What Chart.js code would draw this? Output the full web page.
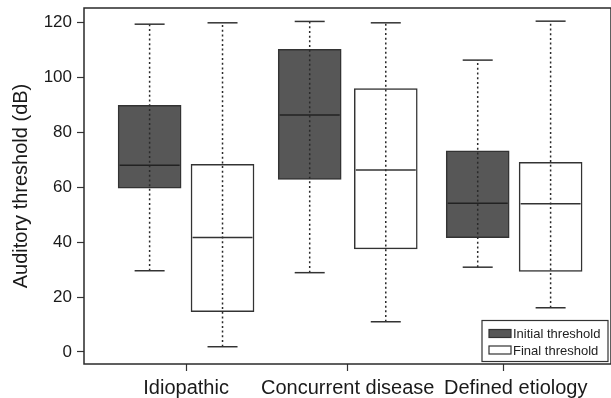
<!DOCTYPE html>
<html>
<head>
<meta charset="utf-8">
<script src="https://cdn.jsdelivr.net/npm/chart.js@4.4.1/dist/chart.umd.min.js"></script>
<style>
  html, body { margin: 0; padding: 0; background: #fff; overflow: hidden; }
</style>
</head>
<body>
<canvas id="myChart" width="620" height="398"></canvas>
<script>
// group labels, where their tick marks sit and where their text sits
const categories = ['Idiopathic', 'Concurrent disease', 'Defined etiology'];
const categoryTicks = [1, 2.02, 3];
const categoryLabelPos = [1, 2.02, 3.08];
const yTicks = [0, 20, 40, 60, 80, 100, 120];

// box positions on the x axis
const initialPos = [0.77, 1.78, 2.84];
const finalPos = [1.23, 2.26, 3.30];

// initial threshold (dB)
const initialMin = [29.6, 28.9, 30.9];
const initialQ1 = [59.7, 62.9, 41.7];
const initialMedian = [68.1, 86.4, 54.2];
const initialQ3 = [89.9, 110.3, 73.3];
const initialMax = [119.5, 120.5, 106.4];

// final threshold (dB)
const finalMin = [1.9, 11.0, 16.1];
const finalQ1 = [14.7, 37.6, 29.4];
const finalMedian = [41.7, 66.3, 54.0];
const finalQ3 = [68.4, 96.0, 69.1];
const finalMax = [120.0, 120.0, 120.6];

const darkFill = '#575757';
const ink = '#2a2a2a';
const font = '"Liberation Sans", Arial, sans-serif';

function boxData(pos, q1, q3) {
    return pos.map((x, i) => ({ x: x, y: [q1[i], q3[i]] }));
}

function whiskerData(pos, lo, hi) {
    const out = [];
    pos.forEach((x, i) => {
        out.push({ x: x, y: lo[i] }, { x: x, y: hi[i] }, { x: x, y: null });
    });
    return out;
}

function capData(pos, lo, hi) {
    const out = [];
    pos.forEach((x, i) => {
        out.push({ x: x, y: lo[i] }, { x: x, y: hi[i] });
    });
    return out;
}

function medianData(pos, med) {
    return pos.map((x, i) => ({ x: x, y: med[i] }));
}

const whiskerStyle = {
    type: 'line',
    borderColor: ink,
    borderWidth: 1.5,
    borderDash: [2, 2.7],
    pointRadius: 0,
    spanGaps: false,
    order: 2
};

const capStyle = {
    type: 'scatter',
    pointStyle: 'line',
    pointRadius: 15,
    borderColor: '#333',
    pointBorderWidth: 1.5,
    showLine: false,
    order: 1
};

// frame round the plot and the legend box inside it
const framePlugin = {
    id: 'frame',
    afterDraw(chart) {
        const ctx = chart.ctx;
        const a = chart.chartArea;
        ctx.save();
        ctx.strokeStyle = ink;
        ctx.lineWidth = 1.5;
        ctx.strokeRect(a.left, a.top, a.right - a.left, a.bottom - a.top);

        const w = 126, h = 41;
        const lx = a.right - 3 - w;
        const ly = a.bottom - 2.5 - h;
        ctx.fillStyle = '#fff';
        ctx.fillRect(lx, ly, w, h);
        ctx.lineWidth = 1.2;
        ctx.strokeStyle = '#333';
        ctx.strokeRect(lx, ly, w, h);

        const items = chart.data.datasets.filter(d => d.type === 'bar');
        items.forEach((d, i) => {
            const cy = ly + 13 + i * 16.5;
            ctx.fillStyle = d.backgroundColor;
            ctx.fillRect(lx + 7, cy - 4, 22, 8);
            ctx.lineWidth = 1.2;
            ctx.strokeStyle = '#333';
            ctx.strokeRect(lx + 7, cy - 4, 22, 8);
            ctx.fillStyle = '#222';
            ctx.font = '13px ' + font;
            ctx.textBaseline = 'middle';
            ctx.textAlign = 'left';
            ctx.fillText(d.label, lx + 31, cy + 1);
        });
        ctx.restore();
    }
};

const ctx = document.getElementById('myChart').getContext('2d');
const myChart = new Chart(ctx, {
    type: 'bar',
    data: {
        datasets: [
            {
                type: 'bar',
                label: 'Initial threshold',
                data: boxData(initialPos, initialQ1, initialQ3),
                backgroundColor: darkFill,
                borderColor: '#333',
                borderWidth: 1.5,
                borderSkipped: false,
                barThickness: 63,
                grouped: false,
                order: 3
            },
            {
                type: 'bar',
                label: 'Final threshold',
                data: boxData(finalPos, finalQ1, finalQ3),
                backgroundColor: '#ffffff',
                borderColor: '#333',
                borderWidth: 1.5,
                borderSkipped: false,
                barThickness: 63,
                grouped: false,
                order: 3
            },
            Object.assign({ label: 'initial whiskers', data: whiskerData(initialPos, initialMin, initialMax) }, whiskerStyle),
            Object.assign({ label: 'final whiskers', data: whiskerData(finalPos, finalMin, finalMax) }, whiskerStyle),
            Object.assign({ label: 'initial caps', data: capData(initialPos, initialMin, initialMax) }, capStyle),
            Object.assign({ label: 'final caps', data: capData(finalPos, finalMin, finalMax) }, capStyle),
            Object.assign({ label: 'initial median', data: medianData(initialPos, initialMedian) }, capStyle, { pointRadius: 30, borderColor: '#222' }),
            Object.assign({ label: 'final median', data: medianData(finalPos, finalMedian) }, capStyle, { pointRadius: 30 })
        ]
    },
    options: {
        responsive: false,
        animation: false,
        events: [],
        layout: {
            autoPadding: false,
            padding: { top: 8, right: 9, left: 0, bottom: 0 }
        },
        scales: {
            // tick marks only
            x: {
                type: 'linear',
                position: 'bottom',
                weight: 0,
                min: 0.356,
                max: 3.681,
                offset: false,
                afterBuildTicks: (axis) => {
                    axis.ticks = categoryTicks.map(v => ({ value: v }));
                },
                afterFit: (axis) => {
                    axis.height = 0;
                    axis.paddingLeft = 0;
                    axis.paddingRight = 0;
                },
                ticks: { display: false },
                grid: {
                    offset: false,
                    drawOnChartArea: false,
                    drawTicks: true,
                    tickLength: 7,
                    tickWidth: 1.2,
                    tickColor: '#333'
                },
                border: { display: false }
            },
            // group names
            xLabels: {
                type: 'linear',
                position: 'bottom',
                weight: 1,
                min: 0.356,
                max: 3.681,
                offset: false,
                afterBuildTicks: (axis) => {
                    axis.ticks = categoryLabelPos.map(v => ({ value: v }));
                },
                afterFit: (axis) => {
                    axis.height = 34;
                    axis.paddingLeft = 0;
                    axis.paddingRight = 0;
                },
                ticks: {
                    autoSkip: false,
                    maxRotation: 0,
                    padding: 4,
                    color: '#1a1a1a',
                    font: { family: font, size: 20 },
                    callback: (value, index) => categories[index]
                },
                grid: { display: false },
                border: { display: false }
            },
            y: {
                min: -4.4,
                max: 125.4,
                afterBuildTicks: (axis) => {
                    axis.ticks = yTicks.map(v => ({ value: v }));
                },
                afterFit: (axis) => {
                    axis.width = 84;
                    axis.paddingTop = 0;
                    axis.paddingBottom = 0;
                },
                ticks: {
                    padding: 5,
                    color: '#1a1a1a',
                    font: { family: font, size: 17 }
                },
                grid: {
                    drawOnChartArea: false,
                    drawTicks: true,
                    tickLength: 7,
                    tickWidth: 1.2,
                    tickColor: '#333'
                },
                border: { display: false },
                title: {
                    display: true,
                    text: 'Auditory threshold (dB)',
                    color: '#1a1a1a',
                    padding: { top: 9, bottom: 0 },
                    font: { family: font, size: 20 }
                }
            }
        },
        plugins: {
            legend: { display: false },
            tooltip: { enabled: false }
        }
    },
    plugins: [framePlugin]
});
</script>
</body>
</html>
